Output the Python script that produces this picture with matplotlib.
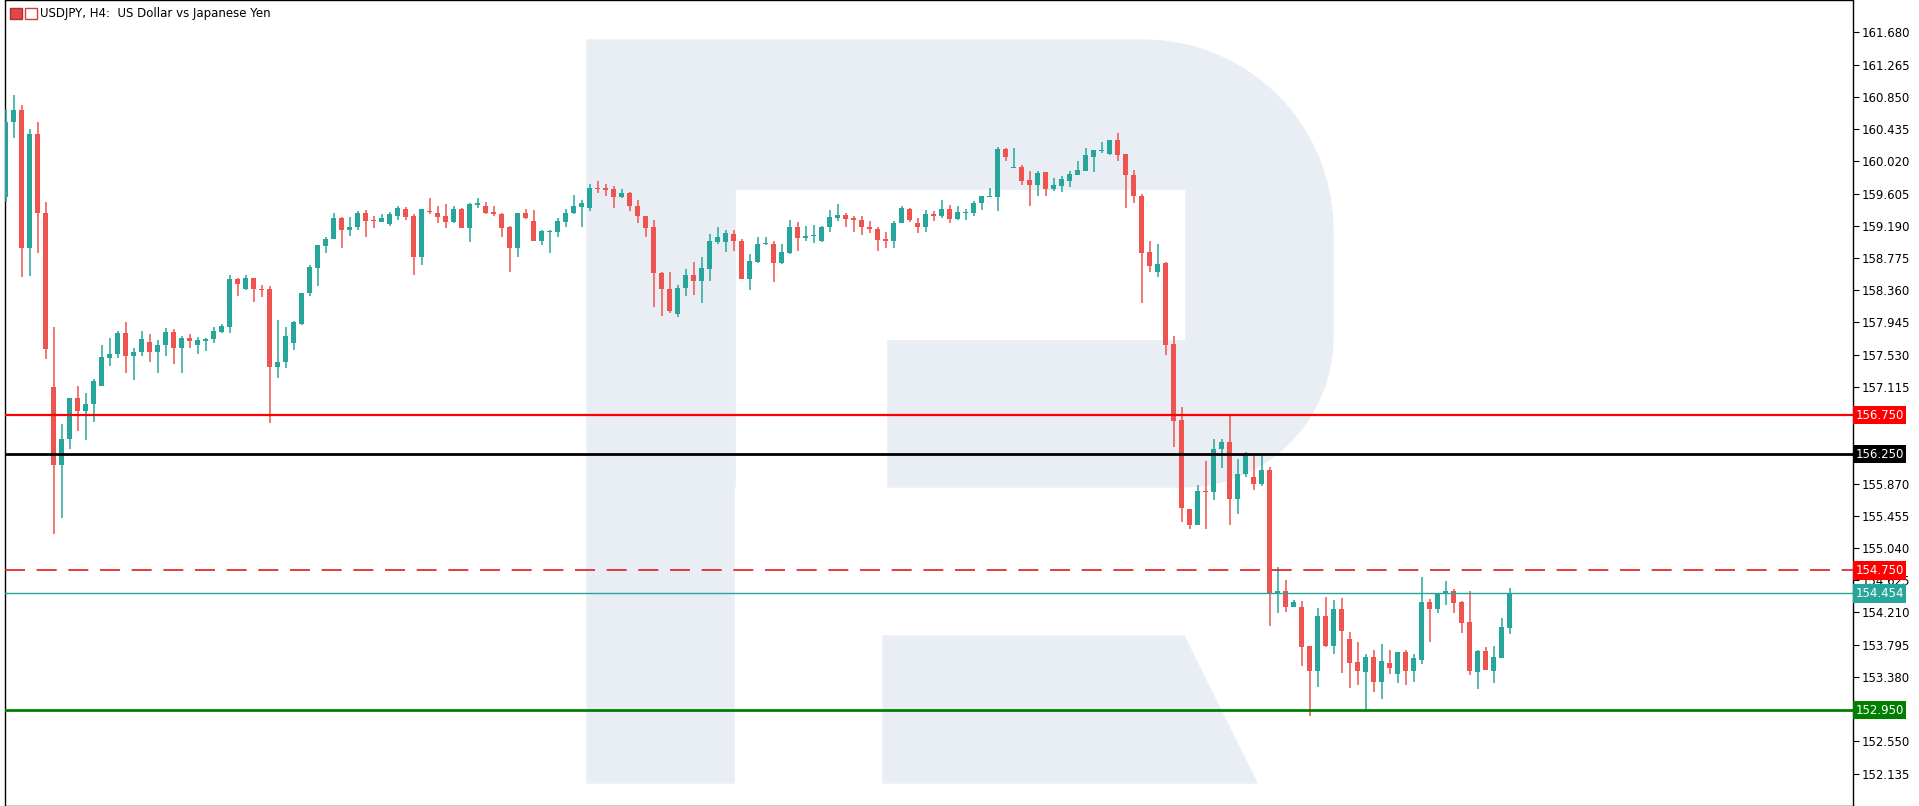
import matplotlib
matplotlib.use("Agg")
import matplotlib.pyplot as plt
import numpy as np
from matplotlib.patches import Polygon, Rectangle

opens = [159.56,160.53,160.68,158.90,160.37,159.36,157.12,156.11,156.45,156.97,156.80,156.89,157.13,157.49,157.54,157.81,157.51,157.57,157.69,157.56,
157.65,157.82,157.62,157.74,157.66,157.71,157.73,157.82,157.89,158.50,158.38,158.52,158.37,158.37,157.37,157.44,157.68,157.93,158.32,158.65,
158.93,159.02,159.29,159.13,159.17,159.35,159.26,159.24,159.21,159.32,159.40,159.32,158.79,159.38,159.36,159.31,159.24,159.40,159.16,159.46,
159.44,159.37,159.34,159.17,158.90,159.36,159.25,159.00,159.11,159.11,159.24,159.35,159.43,159.42,159.68,159.68,159.66,159.56,159.61,159.45,
159.31,159.17,158.58,158.38,158.05,158.39,158.56,158.48,158.63,158.98,158.98,159.09,158.99,158.51,158.73,158.95,158.96,158.71,158.84,159.18,
159.03,159.06,158.99,159.17,159.29,159.33,159.29,159.27,159.18,159.15,159.02,158.99,159.22,159.41,159.23,159.17,159.34,159.31,159.40,159.28,
159.35,159.35,159.48,159.56,159.56,160.18,159.94,159.95,159.78,159.71,159.88,159.66,159.70,159.77,159.85,159.90,160.08,160.15,160.11,160.29,
160.11,159.85,159.58,158.85,158.60,158.71,157.67,156.69,155.54,155.34,155.78,155.76,156.31,156.41,155.67,155.99,155.96,155.87,156.04,154.45,
154.48,154.28,154.28,153.78,153.45,154.17,153.78,154.26,153.87,153.57,153.44,153.64,153.31,153.56,153.42,153.70,153.45,153.60,154.35,154.26,
154.45,154.49,154.34,154.09,153.44,153.71,153.45,153.62,154.01]
closes = [160.53,160.68,158.90,160.37,159.35,157.60,156.11,156.45,156.97,156.80,156.89,157.19,157.50,157.54,157.81,157.51,157.57,157.73,157.56,157.65,
157.82,157.62,157.74,157.71,157.72,157.73,157.83,157.90,158.50,158.44,158.52,158.37,158.36,157.37,157.44,157.77,157.95,158.33,158.66,158.94,
159.02,159.29,159.13,159.18,159.35,159.25,159.25,159.29,159.34,159.42,159.30,158.79,159.40,159.37,159.30,159.24,159.40,159.16,159.47,159.48,
159.35,159.34,159.16,158.90,159.36,159.29,159.00,159.12,159.12,159.25,159.36,159.45,159.48,159.68,159.66,159.65,159.56,159.61,159.44,159.31,
159.16,158.58,158.37,158.09,158.39,158.56,158.48,158.64,158.99,159.05,159.10,158.99,158.51,158.74,158.96,158.96,158.71,158.85,159.18,159.03,
159.06,159.07,159.18,159.30,159.33,159.28,159.27,159.17,159.15,159.01,158.99,159.23,159.42,159.26,159.17,159.34,159.31,159.41,159.28,159.37,
159.36,159.49,159.57,159.57,160.18,160.07,159.95,159.77,159.72,159.87,159.66,159.72,159.79,159.86,159.91,160.10,160.16,160.17,160.29,160.10,
159.84,159.57,158.84,158.67,158.70,157.66,156.68,155.55,155.34,155.77,155.76,156.32,156.41,155.67,155.99,156.25,155.87,156.04,154.45,154.48,
154.28,154.35,153.77,153.45,154.17,153.78,154.26,153.97,153.56,153.45,153.64,153.32,153.58,153.50,153.70,153.45,153.62,154.35,154.26,154.45,
154.49,154.33,154.08,153.45,153.71,153.47,153.64,154.02,154.454]
highs = [160.70,160.87,160.74,160.44,160.53,159.50,157.89,156.64,156.97,157.13,157.03,157.22,157.66,157.74,157.83,157.95,157.62,157.83,157.80,157.72,
157.87,157.86,157.77,157.80,157.76,157.74,157.89,157.92,158.55,158.52,158.56,158.52,158.43,158.41,157.98,157.89,157.96,158.33,158.69,158.94,
159.05,159.36,159.30,159.30,159.38,159.39,159.32,159.34,159.37,159.45,159.43,159.34,159.40,159.55,159.44,159.47,159.44,159.42,159.49,159.55,
159.50,159.45,159.35,159.19,159.36,159.40,159.39,159.14,159.14,159.29,159.40,159.59,159.52,159.73,159.77,159.73,159.70,159.67,159.63,159.52,
159.31,159.26,158.60,158.60,158.43,158.63,158.73,158.79,159.09,159.18,159.14,159.13,159.02,158.83,159.04,159.04,158.99,158.96,159.27,159.24,
159.19,159.20,159.19,159.39,159.47,159.35,159.31,159.31,159.25,159.18,159.11,159.25,159.44,159.42,159.29,159.39,159.38,159.52,159.46,159.44,
159.41,159.51,159.58,159.68,160.20,160.19,160.19,159.97,159.90,159.90,159.88,159.80,159.83,159.89,160.02,160.19,160.16,160.27,160.29,160.38,
160.12,159.91,159.60,159.00,158.96,158.72,157.77,156.85,155.54,155.85,156.16,156.44,156.44,156.75,156.19,156.27,156.25,156.23,156.08,154.80,
154.63,154.37,154.36,153.78,154.27,154.41,154.37,154.39,153.96,153.83,153.68,153.72,153.80,153.72,153.70,153.73,153.68,154.66,154.38,154.45,
154.61,154.51,154.36,154.48,153.73,153.77,153.78,154.14,154.52]
lows = [159.50,160.32,158.53,158.54,158.84,157.47,155.22,155.42,156.32,156.55,156.43,156.66,157.13,157.38,157.49,157.29,157.21,157.51,157.44,157.29,
157.51,157.41,157.29,157.62,157.54,157.58,157.68,157.81,157.81,158.28,158.36,158.21,158.27,156.65,157.23,157.36,157.59,157.91,158.28,158.41,
158.84,159.02,158.90,159.06,159.14,159.04,159.16,159.24,159.19,159.27,159.26,158.55,158.68,159.34,159.22,159.16,159.22,159.16,158.98,159.42,
159.34,159.31,159.04,158.59,158.79,159.28,158.99,158.94,158.84,159.05,159.17,159.34,159.17,159.38,159.61,159.57,159.42,159.55,159.38,159.23,
159.04,158.14,158.03,158.07,158.01,158.28,158.30,158.19,158.48,158.96,158.85,158.86,158.50,158.36,158.71,158.94,158.46,158.70,158.83,158.87,
158.99,158.97,158.98,159.11,159.25,159.18,159.11,159.07,159.10,158.86,158.91,158.91,159.22,159.24,159.10,159.11,159.25,159.29,159.22,159.27,
159.27,159.32,159.39,159.56,159.38,160.03,159.94,159.71,159.45,159.58,159.58,159.64,159.62,159.69,159.85,159.90,159.88,160.13,160.10,160.02,
159.42,159.48,158.19,158.60,158.53,157.52,156.34,155.37,155.29,155.33,155.29,155.66,156.07,155.34,155.48,155.95,155.79,155.84,154.04,154.20,
154.21,154.28,153.52,152.88,153.25,153.77,153.68,153.43,153.24,153.28,152.93,153.18,153.10,153.42,153.30,153.28,153.32,153.55,153.83,154.20,
154.31,154.20,153.94,153.41,153.23,153.47,153.30,153.62,153.93]

ticks = [161.680,161.265,160.850,160.435,160.020,159.605,159.190,158.775,158.360,157.945,157.530,157.115,
         156.700,156.285,155.870,155.455,155.040,154.625,154.210,153.795,153.380,152.965,152.550,152.135]
hidden_ticks = [156.700, 156.285, 152.965]
levels = [156.750, 156.250, 154.750, 154.454, 152.950]
level_colors = ["#ff0000", "#000000", "#e31a1c", "#26a69a", "#008000"]
level_styles = ["-", "-", (0, (12, 7)), "-", "-"]
level_widths = [1.6, 2.0, 1.2, 1.0, 2.0]

UP, DN = "#26a69a", "#ef5350"
W, H = 1919, 806
fig = plt.figure(figsize=(W/100, H/100), dpi=100)

# watermark in a background axes (pixel coordinates, y from top)
bgax = fig.add_axes([0, 0, 1, 1], zorder=0)
bgax.set_xlim(0, W); bgax.set_ylim(H, 0); bgax.axis("off")
wm = "#e9eef5"
R1, R2 = 190, 150
pts = [(587, 783), (587, 40), (1333-R1, 40)]
for t in np.linspace(np.pi/2, 0, 20):
    pts.append((1333-R1+R1*np.cos(t), 40+R1-R1*np.sin(t)))
for t in np.linspace(0, -np.pi/2, 20):
    pts.append((1333-R2+R2*np.cos(t), 487-R2-R2*np.sin(t)))
pts += [(734, 487), (734, 783)]
bgax.add_patch(Polygon(pts, closed=True, color=wm))
bgax.add_patch(Polygon([(736,190),(1184,190),(1184,339),(736,339)], closed=True, color="white"))
bgax.add_patch(Polygon([(736,339),(886,339),(886,487),(736,487)], closed=True, color="white"))
bgax.add_patch(Polygon([(883,636),(1184,636),(1257,783),(883,783)], closed=True, color=wm))
bgax.add_patch(Rectangle((10, 8), 12, 11, facecolor="#e04848", edgecolor="#b03030"))
bgax.add_patch(Rectangle((25, 8), 12, 11, facecolor="white", edgecolor="#d04040"))

ax = fig.add_axes([5/W, 0.5/H, (1853-5)/W, 805/H], zorder=1)
ax.patch.set_alpha(0)
n = len(opens)
x = np.arange(n)
ax.set_xlim(-0.1, 230.9)
ax.set_ylim(151.723, 162.092)

for i in range(n):
    o, c, h, l = opens[i], closes[i], highs[i], lows[i]
    col = UP if c >= o else DN
    ax.vlines(x[i], l, h, color=col, lw=1.1, zorder=3)
    lo, hi = min(o, c), max(o, c)
    ax.add_patch(Rectangle((x[i]-0.32, lo), 0.64, max(hi-lo, 0.012), facecolor=col, edgecolor=col, lw=0, zorder=4))

for lv, colr, ls, lw in zip(levels, level_colors, level_styles, level_widths):
    ax.axhline(lv, color=colr, ls=ls, lw=lw, zorder=5)

ax.yaxis.tick_right()
ax.set_yticks(ticks)
ax.set_yticklabels(["" if t in hidden_ticks else f"{t:.3f}" for t in ticks], fontsize=8.5)
ax.tick_params(axis="y", length=4, width=0.8, pad=2, colors="black")
ax.set_xticks([])
for s in ax.spines.values():
    s.set_linewidth(1.0)

bg = ["#ff0000", "#000000", "#ff0000", "#26a69a", "#008000"]
for lv, b in zip(levels, bg):
    ax.text(1.0013, lv, f"{lv:.3f}", transform=ax.get_yaxis_transform(), ha="left", va="center",
            fontsize=8.5, color="white", zorder=10, clip_on=False,
            bbox=dict(boxstyle="square,pad=0.22", facecolor=b, edgecolor="none"))

fig.text(40/W, 1-14/H, "USDJPY, H4:  US Dollar vs Japanese Yen", fontsize=8.5, va="center", ha="left")
fig.savefig("out.png", dpi=100)
